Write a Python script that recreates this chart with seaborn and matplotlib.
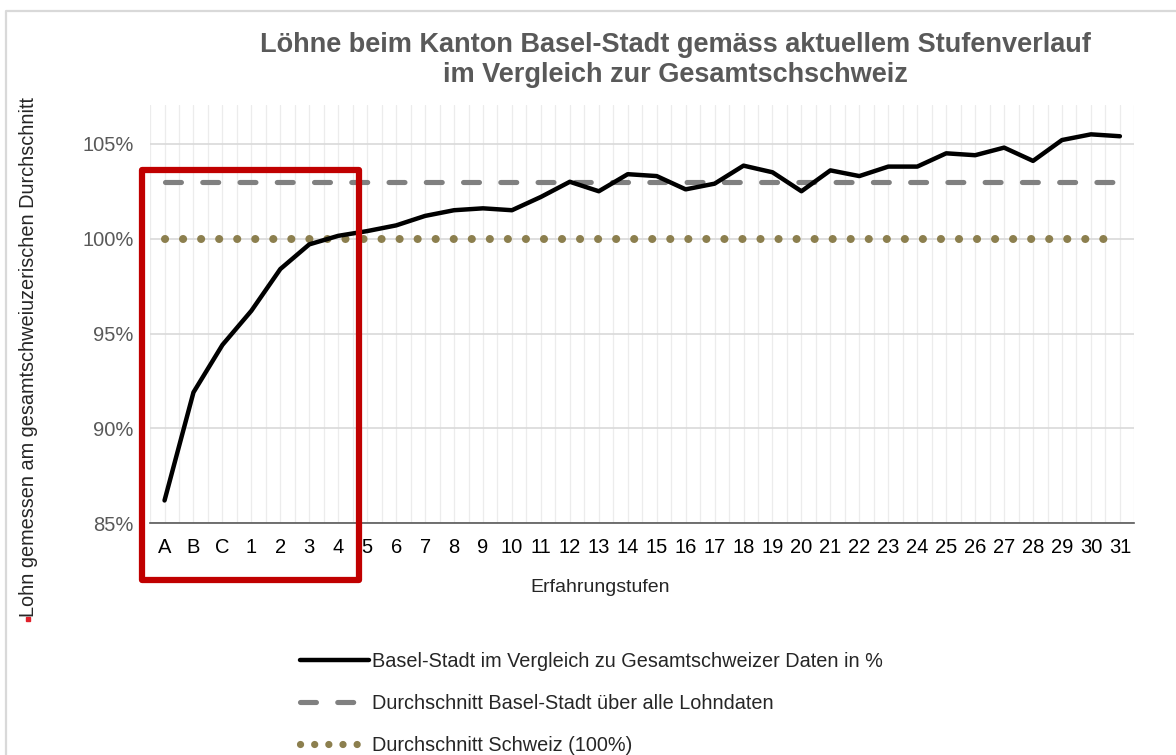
import numpy as np
import pandas as pd
import matplotlib.pyplot as plt
import seaborn as sns
from matplotlib.patches import Rectangle
from matplotlib.lines import Line2D

# Erfahrungsstufen und Werte (in % vom Schweizer Durchschnitt)
stufen = ['A', 'B', 'C'] + [str(i) for i in range(1, 32)]
basel = [86.2, 91.9, 94.4, 96.2, 98.4, 99.7, 100.15, 100.4, 100.7, 101.2,
         101.5, 101.6, 101.5, 102.2, 103.0, 102.5, 103.4, 103.3, 102.6, 102.9,
         103.85, 103.5, 102.5, 103.6, 103.3, 103.8, 103.8, 104.5, 104.4, 104.8,
         104.1, 105.2, 105.5, 105.4]
basel_avg = 103.0
schweiz_avg = 100.0
y_ticks = [85, 90, 95, 100, 105]

labels = ['Basel-Stadt im Vergleich zu Gesamtschweizer Daten in %',
          'Durchschnitt Basel-Stadt über alle Lohndaten',
          'Durchschnitt Schweiz (100%)']

sns.set_style('white')
plt.rcParams['font.family'] = ['Liberation Sans', 'DejaVu Sans']

df = pd.DataFrame({'pos': np.arange(len(stufen)), 'wert': basel})
ends = [0, len(stufen) - 1]

fig = plt.figure(figsize=(11.76, 7.55), dpi=100)
ax = fig.add_axes([0.1276, 0.307, 0.837, 0.554])

# gridlines
for x in np.arange(-0.5, len(stufen), 0.5):
    ax.axvline(x, color='#ececec', lw=0.9, zorder=0)
for y in y_ticks:
    ax.axhline(y, color='#d9d9d9', lw=1.2, zorder=0)

gold = '#8c7f4e'
dot_ls = (0, (0.01, 2.23))
dash_ls = (0, (3.1, 4.15))
ax.plot(ends, [schweiz_avg, schweiz_avg], color=gold, lw=5.8, ls=dot_ls,
        dash_capstyle='round', zorder=2)
ax.plot(ends, [basel_avg, basel_avg], color='#808080', lw=3.7, ls=dash_ls,
        dash_capstyle='round', zorder=2)
sns.lineplot(data=df, x='pos', y='wert', color='black', lw=3.2, ax=ax, zorder=3)

ax.set_xlim(-0.5, len(stufen) - 0.5)
ax.set_ylim(85, 107.05)
ax.set_yticks(y_ticks)
ax.set_yticklabels([f'{v}%' for v in y_ticks], color='#595959', fontsize=14.5)
ax.set_xticks(np.arange(-0.5, len(stufen), 1))
ax.set_xticklabels([])
ax.set_xticks(np.arange(len(stufen)), minor=True)
ax.set_xticklabels(stufen, minor=True, fontsize=14.5, color='black')
ax.tick_params(axis='x', which='major', length=5, width=1.2, color='#595959', direction='out')
ax.tick_params(axis='x', which='minor', length=0, pad=11)
ax.tick_params(axis='y', length=0, pad=12)
ax.set_xlabel('')
ax.set_ylabel('')
for s in ['top', 'right', 'left']:
    ax.spines[s].set_visible(False)
ax.spines['bottom'].set_color('#595959')
ax.spines['bottom'].set_linewidth(1.2)

fig.text(0.574, 0.9205, 'Löhne beim Kanton Basel-Stadt gemäss aktuellem Stufenverlauf\nim Vergleich zur Gesamtschschweiz',
         ha='center', va='center', fontsize=19.5, fontweight='bold', color='#595959', linespacing=1.2)
fig.text(0.51, 0.222, 'Erfahrungstufen', ha='center', va='center', fontsize=14)
fig.text(0.0245, 0.527, 'Lohn gemessen am gesamtschweiuzerischen Durchschnitt',
         rotation=90, ha='center', va='center', fontsize=14.3)
fig.add_artist(Line2D([0.0238], [0.18], marker='s', ms=2.6, color='#e0202a',
                      transform=fig.transFigure))

handles = [Line2D([], [], color='black', lw=3.2),
           Line2D([], [], color='#808080', lw=3.7, ls=dash_ls, dash_capstyle='round'),
           Line2D([], [], color=gold, lw=5.2, ls=(0, (0.01, 1.95)), dash_capstyle='round')]
fig.legend(handles, labels, loc='upper left', bbox_to_anchor=(0.255, 0.137), frameon=False,
           fontsize=14.3, handlelength=3.5, handletextpad=0.15, labelspacing=1.18,
           borderaxespad=0, borderpad=0)

# roter Rahmen um die Einstiegsstufen
fig.add_artist(Rectangle((0.1205, 0.232), 0.185, 0.543, transform=fig.transFigure,
                         fill=False, edgecolor='#c00000', lw=4.5, joinstyle='round'))
# Rahmen oben und links
fig.add_artist(Line2D([0.0055, 0.0055, 1.0], [0.0, 0.9855, 0.9855], color='#d9d9d9',
                      lw=1.6, transform=fig.transFigure))

fig.savefig('out.png', dpi=100)
